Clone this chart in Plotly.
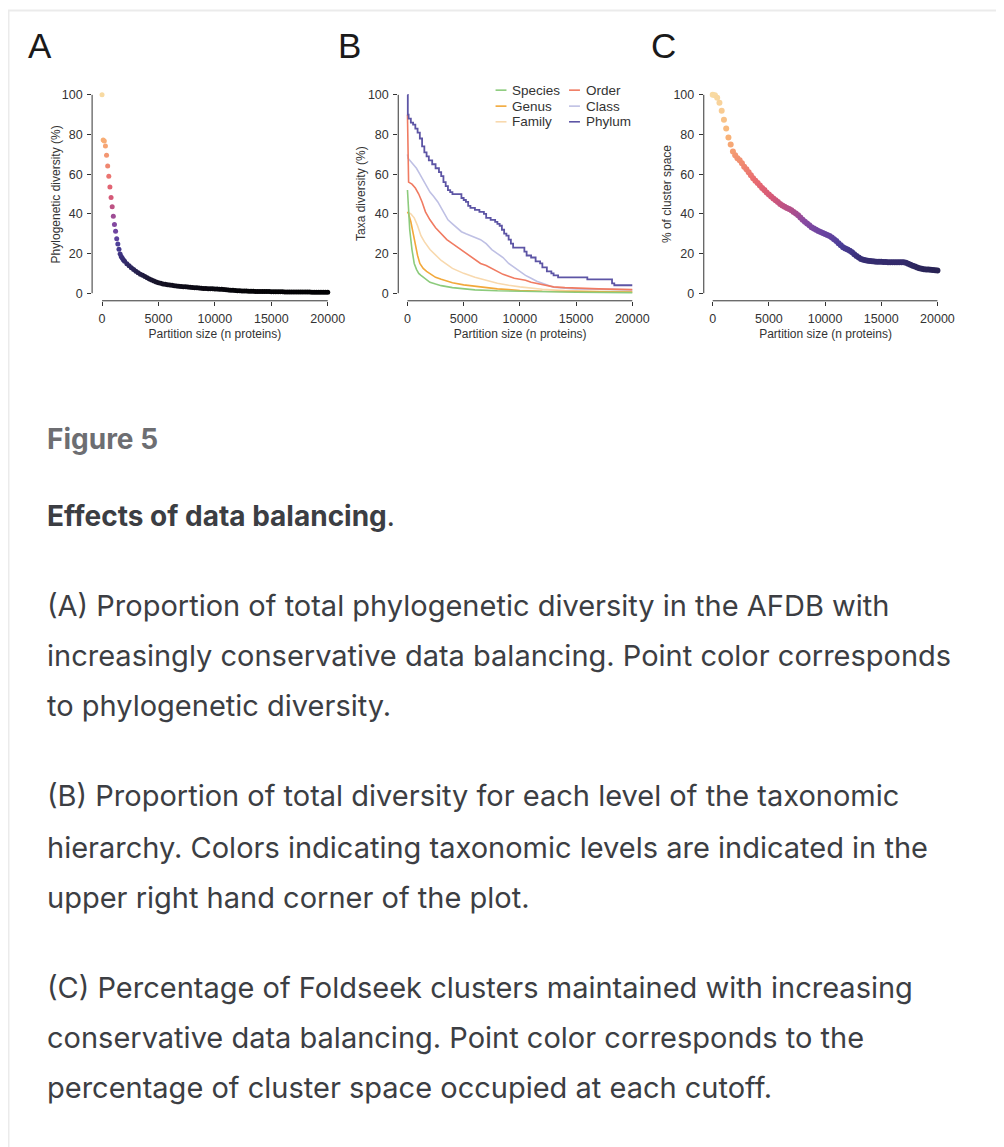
import plotly.graph_objects as go

# page body has an 8px margin; the figure is sized to fill the rest of the window
OFF = 8
W, H = 1004 - OFF, 1147 - OFF

# ---------------- Panel A data ----------------
a_x = list(range(0, 2001, 100)) + list(range(2200, 20001, 200))
a_y = [100, 77.2, 76.7, 74.2, 69.5, 64.1, 58.9, 53.5, 48.3, 43.6, 38.8, 34.6, 31.2, 27.5, 24.8, 22.1,
       19.8, 18.5, 17.6, 16.8, 16.1,
       14.9, 13.8, 12.8, 11.9, 11.1, 10.3, 9.6, 9.0, 8.4, 7.8, 7.2, 6.7, 6.2, 5.7, 5.3, 5.0, 4.7, 4.5,
       4.3, 4.1, 3.95, 3.8, 3.65, 3.5, 3.4, 3.3, 3.2, 3.1, 3.0, 2.9, 2.8, 2.7, 2.6, 2.5, 2.4, 2.35, 2.3,
       2.25, 2.2, 2.15, 2.1, 2.0, 1.95, 1.85, 1.75, 1.65, 1.55, 1.45, 1.35, 1.25, 1.2, 1.15, 1.1, 1.05,
       1.0, 0.98, 0.95, 0.92, 0.9, 0.88, 0.86, 0.84, 0.82, 0.8, 0.78, 0.76, 0.74, 0.72, 0.7, 0.68, 0.66,
       0.65, 0.64, 0.63, 0.62, 0.61, 0.6, 0.59, 0.58, 0.57, 0.56, 0.55, 0.54, 0.53, 0.52, 0.51, 0.5,
       0.5, 0.5, 0.5]

# ---------------- Panel B data ----------------
species_x = [0, 100, 200, 400, 600, 800, 1000, 1200, 1500, 2000, 2500, 3000, 4000, 5000, 6000, 8000, 10000, 15000, 20000]
species_y = [52, 40, 32, 22, 15, 12, 10, 9, 7.5, 5.5, 4.6, 3.8, 2.8, 2.2, 1.7, 1.2, 0.9, 0.5, 0.3]

genus_x = [0, 100, 300, 500, 700, 900, 1100, 1400, 1700, 2000, 2500, 3000, 4000, 5000, 6000, 7000, 8000, 9000, 10000, 12000, 15000, 20000]
genus_y = [41, 40, 36, 30, 24, 19, 15, 12.5, 11, 10, 8, 7, 5.3, 4.2, 3.5, 2.8, 2.2, 1.8, 1.4, 1.0, 0.8, 0.6]

family_x = [0, 300, 600, 900, 1200, 1500, 2000, 2500, 3000, 3500, 4000, 5000, 6000, 7000, 8000, 9000, 10000, 12000, 14000, 17000, 20000]
family_y = [41, 40, 38, 34, 29, 26, 22, 19, 16.5, 14.5, 12.5, 10, 8, 6.5, 5, 4, 3.2, 2, 1.3, 1.0, 0.8]

order_x = [0, 30, 100, 400, 700, 1000, 1300, 1600, 2000, 2500, 3000, 3500, 4000, 4500, 5000, 5500, 6000, 6500,
           7000, 7500, 8000, 8500, 9000, 9500, 10000, 10500, 11000, 11500, 12000, 12500, 13000, 14000, 15000, 17000, 20000]
order_y = [90, 60, 56, 55, 53, 50, 46, 41, 37, 33, 30, 27, 25, 23, 21, 19, 17, 15, 14, 12.5, 11, 9.5, 8.5, 7.5, 7,
           6.5, 5.5, 5, 4.5, 3.8, 3.2, 2.8, 2.5, 2.2, 1.8]

class_x = [0, 50, 200, 500, 800, 1100, 1400, 1700, 2000, 2300, 2700, 3000, 3300, 3600, 4000, 4400, 4800, 5200, 5600,
           6000, 6500, 7000, 7500, 8000, 8500, 9000, 9500, 10000, 10500, 11000, 11500, 12000, 12500, 13000, 14000, 15000, 17000, 20000]
class_y = [70, 68, 67, 65, 63, 60, 57, 54, 51, 49, 46, 43, 40, 37, 35, 33, 31, 30, 29, 28, 27, 25, 22, 20, 18, 15,
           13, 11, 9, 7.5, 6, 5, 4, 3, 2.5, 2.2, 2, 1.7]

phylum_x = [0, 30, 100, 300, 500, 700, 900, 1100, 1300, 1500, 1700, 1900, 2200, 2500, 2800, 3000, 3200, 3400, 3600,
            3800, 4000, 4600, 4800, 5000, 5200, 5400, 5600, 6000, 6400, 6800, 7000, 7400, 7800, 8000, 8200, 8400,
            8600, 8800, 9000, 9200, 9400, 10400, 10600, 11000, 11400, 11800, 12000, 12400, 12800, 13000, 13400,
            16000, 18200, 18400, 20000]
phylum_y = [100, 90, 88, 86, 85, 83, 81, 78, 74, 71, 69, 67, 65, 63, 61, 59, 56, 54, 52, 51, 50, 50, 48, 47, 46, 44,
            43, 42, 41, 40, 38, 37, 36, 35, 34, 32, 30, 29, 27, 25, 23, 21, 19, 18, 16, 15, 13, 11, 10, 9, 8, 7, 5, 4, 4]

# ---------------- Panel C data ----------------
c_x = list(range(0, 20001, 200))
c_y = [100, 99.8, 98.5, 96, 92, 87.5, 83, 78.5, 75, 71.5, 69.5, 68, 67, 65.5, 63.8, 62.5, 61, 59.5, 58, 56.7,
       55.5, 54.3, 53, 52, 50.8, 49.8, 48.8, 47.8, 46.9, 46, 45, 44.2, 43.6, 43, 42.4, 41.8, 41, 40.2, 39.3, 38.2,
       37, 36, 35.2, 34.2, 33.3, 32.6, 32, 31.4, 30.8, 30.3, 29.9, 29.4, 28.8, 28.1, 27.2, 26.3, 25.2, 24.2, 23.2,
       22.5, 22, 21.4, 20.6, 19.7, 18.8, 18, 17.3, 16.9, 16.6, 16.4, 16.2, 16.1, 16.0, 15.9, 15.8, 15.8, 15.7, 15.7,
       15.6, 15.6, 15.6, 15.6, 15.6, 15.6, 15.6, 15.6, 15.3, 14.8, 14.3, 13.9, 13.5, 13.0, 12.6, 12.3, 12.1, 12.0,
       11.9, 11.8, 11.7, 11.6, 11.5]

assert len(a_x) == len(a_y), (len(a_x), len(a_y))
assert len(c_x) == len(c_y), (len(c_x), len(c_y))

tick_vals_x = [0, 5000, 10000, 15000, 20000]
tick_text_x = ["0", "5000", "10000", "15000", "20000"]
tick_vals_y = [0, 20, 40, 60, 80, 100]

taxa_names = ["Species", "Genus", "Family", "Order", "Class", "Phylum"]
taxa_colors = ["#8ccb7c", "#f2a83a", "#f8d9ae", "#f07b62", "#bfc0e4", "#5d55a5"]
taxa_x = [species_x, genus_x, family_x, order_x, class_x, phylum_x]
taxa_y = [species_y, genus_y, family_y, order_y, class_y, phylum_y]

cscale = [
    [0.0, "#000000"], [0.05, "#151225"], [0.12, "#2a2458"], [0.18, "#3a307a"], [0.24, "#4a3e98"],
    [0.30, "#6a44a0"], [0.36, "#8a4aa0"], [0.42, "#b45088"], [0.48, "#d45878"], [0.56, "#e86a70"],
    [0.65, "#f08a70"], [0.78, "#f8b075"], [1.0, "#f8daa2"],
]

def px(v):
    return (v - OFF) / W

def py(v):
    return 1 - (v - OFF) / H

fig = go.Figure()

fig.add_trace(go.Scatter(
    x=a_x, y=a_y, mode="markers", xaxis="x", yaxis="y", showlegend=False,
    marker=dict(size=5, color=a_y, colorscale=cscale, cmin=0, cmax=100, line=dict(width=0)),
))

order_draw = [2, 1, 0, 4, 3, 5]
for i in order_draw:
    fig.add_trace(go.Scatter(
        x=taxa_x[i], y=taxa_y[i], mode="lines", name=taxa_names[i], xaxis="x2", yaxis="y2",
        showlegend=False,
        line=dict(color=taxa_colors[i], width=1.8 if i == 5 else 1.6, shape="hv" if i == 5 else "linear"),
    ))

fig.add_trace(go.Scatter(
    x=c_x, y=c_y, mode="markers", xaxis="x3", yaxis="y3", showlegend=False,
    marker=dict(size=6, color=c_y, colorscale=cscale, cmin=0, cmax=100, line=dict(width=0)),
))

panels = [
    dict(left=92.7, x0=102.7, x1=330.0, ytitle_x=56.7),
    dict(left=401.0, x0=410.3, x1=636.7, ytitle_x=363.5),
    dict(left=708.7, x0=717.7, x1=944.0, ytitle_x=671.7),
]
y_top_px, y_bot_px = 88.0, 299.3
y0_px, y100_px = 291.7, 93.0
ppu_y = (y0_px - y100_px) / 100.0
y_lo = -(y_bot_px - y0_px) / ppu_y
y_hi = 100 + (y100_px - y_top_px) / ppu_y

y_titles = ["Phylogenetic diversity (%)", "Taxa diversity (%)", "% of cluster space"]
tick_font = dict(family="Liberation Sans, Arial, sans-serif", size=12.5, color="#333333")
title_font = dict(family="Liberation Sans, Arial, sans-serif", size=12, color="#333333")

layout_axes = {}
shapes = []
annotations = []
for k, p in enumerate(panels):
    right = p["x1"] + 10
    ppu_x = (p["x1"] - p["x0"]) / 20000.0
    x_lo = -(p["x0"] - p["left"]) / ppu_x
    x_hi = 20000 + (right - p["x1"]) / ppu_x
    sfx = "" if k == 0 else str(k + 1)
    layout_axes["xaxis" + sfx] = dict(
        domain=[px(p["left"]), px(right)], range=[x_lo, x_hi], anchor="y" + sfx,
        showgrid=False, zeroline=False, showline=False,
        ticks="outside", ticklen=4, tickwidth=1, tickcolor="#333333",
        tickvals=tick_vals_x, ticktext=tick_text_x, tickfont=tick_font, ticklabelstandoff=2,
        title=dict(text="Partition size (n proteins)", font=title_font, standoff=4),
        fixedrange=True,
    )
    layout_axes["yaxis" + sfx] = dict(
        domain=[py(y_bot_px), py(y_top_px)], range=[y_lo, y_hi], anchor="x" + sfx,
        showgrid=False, zeroline=False, showline=False,
        ticks="outside", ticklen=4, tickwidth=1, tickcolor="#333333",
        tickvals=tick_vals_y, tickfont=tick_font, ticklabelstandoff=2,
        fixedrange=True,
    )
    annotations.append(dict(text=y_titles[k], xref="paper", yref="paper",
                            x=px(p["ytitle_x"]), y=py((y0_px + y100_px) / 2),
                            xanchor="center", yanchor="middle", textangle=-90, showarrow=False,
                            font=title_font))
    xr = "x" + sfx
    yr = "y" + sfx
    shapes.append(dict(type="line", xref=xr, yref=yr + " domain", x0=0, x1=20000, y0=0, y1=0,
                       line=dict(color="#333333", width=1)))
    shapes.append(dict(type="line", xref=xr + " domain", yref=yr, x0=0, x1=0, y0=0, y1=100,
                       line=dict(color="#333333", width=1)))

# page border lines
shapes.append(dict(type="line", xref="paper", yref="paper", x0=px(8), x1=1.0, y0=py(8.5), y1=py(8.5),
                   line=dict(color="#ebebeb", width=2)))
shapes.append(dict(type="line", xref="paper", yref="paper", x0=px(8.5), x1=px(8.5), y0=py(8), y1=0,
                   line=dict(color="#ebebeb", width=2)))

leg_cols = [(499.0, 514.0), (573.0, 588.0)]
leg_rows = [88.3, 104.3, 120.0]
for i, name in enumerate(taxa_names):
    col, row = divmod(i, 3)
    lx, tx = leg_cols[col]
    ly = leg_rows[row]
    shapes.append(dict(type="line", xref="paper", yref="paper", x0=px(lx), x1=px(lx + 11),
                       y0=py(ly), y1=py(ly), line=dict(color=taxa_colors[i], width=1.6)))
    annotations.append(dict(text=name, xref="paper", yref="paper", x=px(tx), y=py(ly),
                            xanchor="left", yanchor="middle", showarrow=False,
                            font=dict(family="Liberation Sans, Arial, sans-serif", size=13.5, color="#333333")))

for letter, cx in [("A", 40.5), ("B", 352.0), ("C", 668.0)]:
    annotations.append(dict(text=letter, xref="paper", yref="paper", x=px(cx), y=py(44),
                            xanchor="center", yanchor="middle", showarrow=False,
                            font=dict(family="Liberation Sans, Arial, sans-serif", size=35, color="#1a1a1a")))

text_font = "Inter, Lato, sans-serif"
annotations.append(dict(text="<b>Figure 5</b>", xref="paper", yref="paper", x=px(45), y=py(438),
                        xanchor="left", yanchor="middle", showarrow=False,
                        font=dict(family=text_font, size=28, color="#6d6e72")))
annotations.append(dict(text="<b>Effects of data balancing</b>.", xref="paper", yref="paper", x=px(45), y=py(515),
                        xanchor="left", yanchor="middle", showarrow=False,
                        font=dict(family=text_font, size=28, color="#3c3e43")))

caption_lines = [
    ("(A) Proportion of total phylogenetic diversity in the AFDB with", 605),
    ("increasingly conservative data balancing. Point color corresponds", 655),
    ("to phylogenetic diversity.", 705),
    ("(B) Proportion of total diversity for each level of the taxonomic", 795),
    ("hierarchy. Colors indicating taxonomic levels are indicated in the", 847),
    ("upper right hand corner of the plot.", 897),
    ("(C) Percentage of Foldseek clusters maintained with increasing", 987),
    ("conservative data balancing. Point color corresponds to the", 1037),
    ("percentage of cluster space occupied at each cutoff.", 1087),
]
for txt, yy in caption_lines:
    annotations.append(dict(text=txt, xref="paper", yref="paper", x=px(45), y=py(yy),
                            xanchor="left", yanchor="middle", showarrow=False,
                            font=dict(family=text_font, size=29, color="#3c3e43")))

fig.update_layout(
    width=W, height=H, margin=dict(l=0, r=0, t=0, b=0),
    paper_bgcolor="white", plot_bgcolor="white",
    shapes=shapes, annotations=annotations, showlegend=False,
    **layout_axes,
)

fig.write_html("out.html", config={"displayModeBar": False})
